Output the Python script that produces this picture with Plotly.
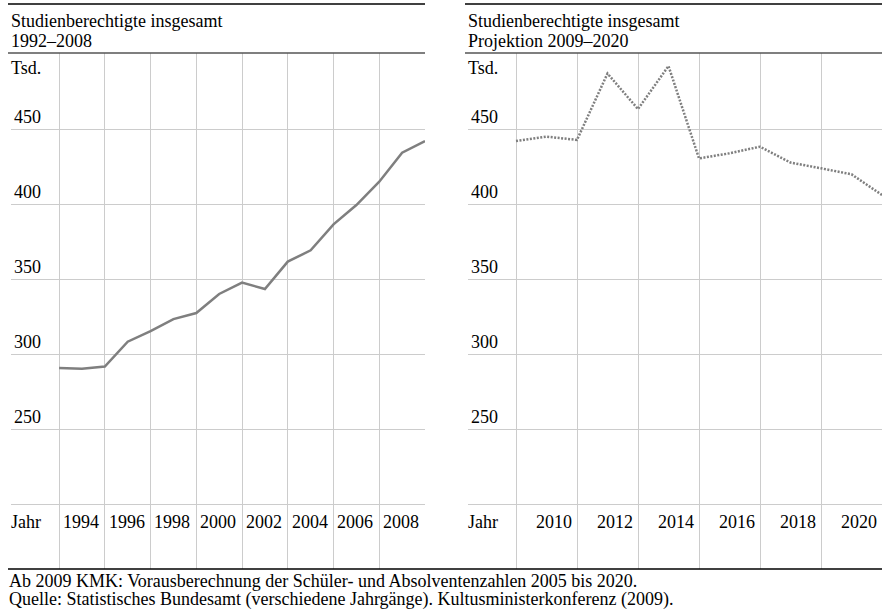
import plotly.graph_objects as go

# ---------------- data ----------------
years_hist = list(range(1992, 2009))
studienberechtigte_hist = [290.7, 290.2, 291.6, 308.2, 315.3, 323.3, 327.3, 340.0, 347.6,
                           343.3, 361.6, 369.1, 386.4, 399.3, 414.9, 434.2, 442.0]
years_proj = list(range(2008, 2021))
studienberechtigte_proj = [442.0, 444.9, 442.7, 487.0, 463.3, 492.0, 430.4, 433.8, 438.2,
                           427.6, 423.8, 419.8, 406.0]
y_ticks = [200, 250, 300, 350, 400, 450]
y_tick_labels = ["", "250", "300", "350", "400", "450"]
x_grid_hist = [1992, 1994, 1996, 1998, 2000, 2002, 2004, 2006]
x_labels_hist = [1994, 1996, 1998, 2000, 2002, 2004, 2006, 2008]
x_grid_proj = [2008, 2010, 2012, 2014, 2016, 2018]
x_labels_proj = [2010, 2012, 2014, 2016, 2018, 2020]
title_left = ["Studienberechtigte insgesamt", "1992–2008"]
title_right = ["Studienberechtigte insgesamt", "Projektion 2009–2020"]
footnotes = ["Ab 2009 KMK: Vorausberechnung der Schüler- und Absolventenzahlen 2005 bis 2020.",
             "Quelle: Statistisches Bundesamt (verschiedene Jahrgänge). Kultusministerkonferenz (2009)."]

# ---------------- layout helpers ----------------
W, H = 882, 614
FONT = "Liberation Serif"
FS = 18
GRID = "#cccccc"
LINE = "#7f7f7f"


def px(x):
    return x / W


def py(y):
    return 1 - y / H


fig = go.Figure()
fig.add_trace(go.Scatter(x=years_hist, y=studienberechtigte_hist, mode="lines",
                         line=dict(color=LINE, width=2.5), xaxis="x", yaxis="y",
                         showlegend=False, hoverinfo="x+y"))
fig.add_trace(go.Scatter(x=years_proj, y=studienberechtigte_proj, mode="lines",
                         line=dict(color=LINE, width=2.5, dash="2px,1.5px"),
                         xaxis="x2", yaxis="y2", showlegend=False, hoverinfo="x+y"))

y_top, y_bot = 53, 569
y_range = [400 - (y_bot - 204) / 1.5, 400 + (204 - y_top) / 1.5]

common_x = dict(showgrid=True, gridcolor=GRID, gridwidth=1, zeroline=False,
                showline=False, ticks="", showticklabels=False)
common_y = dict(showgrid=True, gridcolor=GRID, gridwidth=1, zeroline=False,
                showline=False, ticks="", tickvals=y_ticks, ticktext=y_tick_labels,
                ticklabelposition="inside top", range=y_range,
                tickfont=dict(family=FONT, size=FS, color="black"),
                domain=[py(y_bot), py(y_top)])

fig.update_layout(
    width=W, height=H,
    margin=dict(l=0, r=0, t=0, b=0),
    paper_bgcolor="white", plot_bgcolor="white",
    font=dict(family=FONT, size=FS, color="black"),
    xaxis=dict(domain=[px(11), px(425)], range=[1992 - 48 / 22.83, 2008],
               tickvals=x_grid_hist, anchor="y", **common_x),
    yaxis=dict(anchor="x", **common_y),
    xaxis2=dict(domain=[px(468), 1], range=[2008 - 48 / 30.5, 2020],
                tickvals=x_grid_proj, anchor="y2", **common_x),
    yaxis2=dict(anchor="x2", **common_y),
)

ann = []
# titles
for i, t in enumerate(title_left):
    ann.append(dict(text=t, xref="paper", yref="paper", x=px(9), y=py(21 + 20 * i),
                    xanchor="left", yanchor="middle", showarrow=False))
for i, t in enumerate(title_right):
    ann.append(dict(text=t, xref="paper", yref="paper", x=px(466), y=py(21 + 20 * i),
                    xanchor="left", yanchor="middle", showarrow=False))
# Tsd. / Jahr
for xp in (9, 466):
    ann.append(dict(text="Tsd.", xref="paper", yref="paper", x=px(xp), y=py(68),
                    xanchor="left", yanchor="middle", showarrow=False))
    ann.append(dict(text="Jahr", xref="paper", yref="paper", x=px(xp), y=py(522),
                    xanchor="left", yanchor="middle", showarrow=False))
# year labels
for yr in x_labels_hist:
    ann.append(dict(text=str(yr), xref="x", yref="paper", x=yr, y=py(522), xshift=-4,
                    xanchor="right", yanchor="middle", showarrow=False))
for yr in x_labels_proj:
    ann.append(dict(text=str(yr), xref="x2", yref="paper", x=yr, y=py(522), xshift=-3,
                    xanchor="right", yanchor="middle", showarrow=False))
# footnotes
for i, t in enumerate(footnotes):
    ann.append(dict(text=t, xref="paper", yref="paper", x=px(7), y=py(581 + 18 * i),
                    xanchor="left", yanchor="middle", showarrow=False))
fig.update_layout(annotations=ann)

shapes = []
for x0, x1 in ((8, 425), (465, 882)):
    shapes.append(dict(type="line", xref="paper", yref="paper", x0=px(x0), x1=px(x1),
                       y0=py(4), y1=py(4), line=dict(color="black", width=1.5)))
    shapes.append(dict(type="line", xref="paper", yref="paper", x0=px(x0), x1=px(x1),
                       y0=py(53), y1=py(53), line=dict(color="#555555", width=1.5)))
shapes.append(dict(type="line", xref="paper", yref="paper", x0=px(8), x1=1,
                   y0=py(569), y1=py(569), line=dict(color="black", width=1.5)))
fig.update_layout(shapes=shapes)

fig.write_html("out.html",
               config={"displayModeBar": False},
               post_script="document.body.style.margin='0px';"
                           "document.body.style.overflow='hidden';")
